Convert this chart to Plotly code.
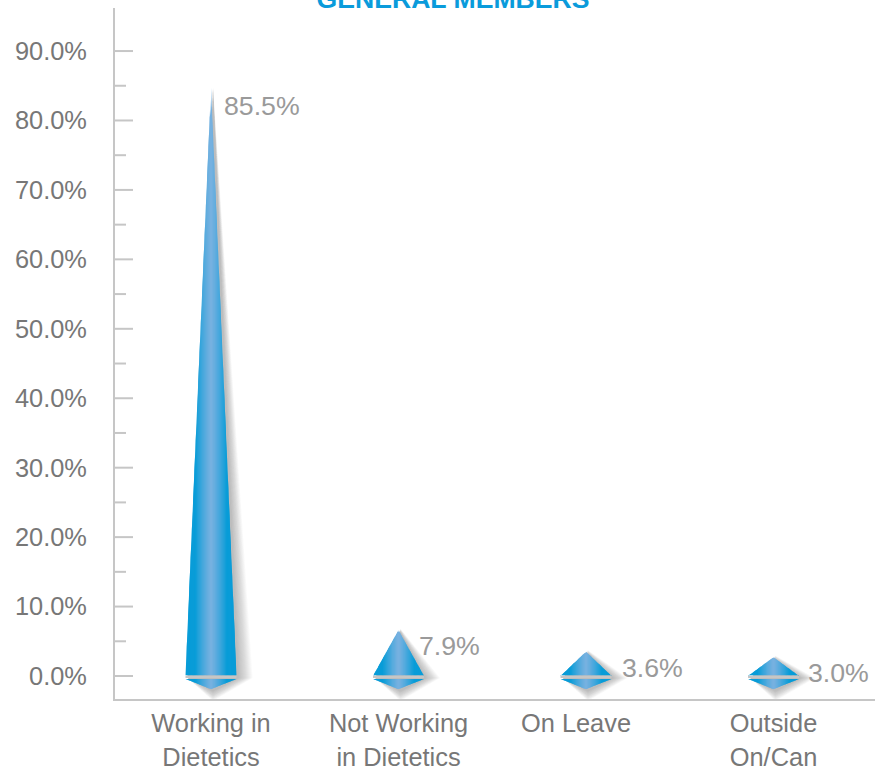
import numpy as np
import plotly.graph_objects as go

# ---- data ----
categories = ["Working in<br>Dietetics", "Not Working<br>in Dietetics", "On Leave", "Outside<br>On/Can"]
label_values = [85.5, 7.9, 3.6, 3.0]
drawn_heights = [84.7, 6.6, 3.5, 2.7]
major_ticks = [0, 10, 20, 30, 40, 50, 60, 70, 80, 90]
minor_ticks = [5, 15, 25, 35, 45, 55, 65, 75, 85]
title_text = "GENERAL MEMBERS"

# ---- styling ----
W, H = 875, 772
ML, MR, MT, MB = 115, 0, 8, 73
PX_X = 187.5               # pixels per category
PX_Y = 6.944               # pixels per y unit
X0, X1 = -(211 - ML) / PX_X, (W - 211) / PX_X
Y0, Y1 = -(H - MB - 676) / PX_Y, (676 - MT) / PX_Y
HALF = 25.5 / PX_X
TIP = -1.9
LOW_TOP = -0.42
GRAY = "#c6c6c6"
tick_positions = [0, 1, 2 - 10 / PX_X, 3]
label_dx = [11, 18.5, 34, 32.5]
label_dy = [-24, -25, -17, -18]

def grad(u):
    a = min(abs(u) / 0.62, 1.0) ** 1.2
    c0, c1 = (120, 177, 224), (8, 156, 216)
    return "rgb(%d,%d,%d)" % tuple(round(p + (q - p) * a) for p, q in zip(c0, c1))

fig = go.Figure()
skip = dict(mode="lines", line=dict(width=0), fill="toself", hoverinfo="skip", showlegend=False)

# soft shadows, offset to the lower right
for grow in range(14, -1, -1):
    xs, ys = [], []
    gx, gy = grow / PX_X, grow / PX_Y
    for i, h in enumerate(drawn_heights):
        cx = i + 2 / PX_X
        dy = -2 / PX_Y
        xs += [cx - HALF, cx, cx + HALF + gx, cx, cx - HALF, None]
        ys += [dy, dy + h + gy * 0.25, dy, dy + TIP - gy * 0.7, dy, None]
    fig.add_trace(go.Scatter(x=xs, y=ys, fillcolor="rgba(100,100,100,0.03)", **skip))

# blue pyramids built from thin vertical strips to carry the gradient
edges = np.linspace(-1, 1, 41)
for a, b in zip(edges[:-1], edges[1:]):
    mid = (a + b) / 2
    ov = min(b + 0.03, 1.0)
    xs, ys = [], []
    for i, h in enumerate(drawn_heights):
        top = lambda u: h * (1 - abs(u))
        low = lambda u: LOW_TOP + (TIP - LOW_TOP) * (1 - abs(u))
        xs += [i + a * HALF, i + a * HALF, i + ov * HALF, i + ov * HALF, None]
        ys += [0.1, top(a), top(ov), 0.1, None]
        xs += [i + a * HALF, i + a * HALF, i + ov * HALF, i + ov * HALF, None]
        ys += [LOW_TOP, low(a), low(ov), LOW_TOP, None]
    fig.add_trace(go.Scatter(x=xs, y=ys, fillcolor=grad(mid), **skip))

# gray seam at the zero line of each pyramid
for i in range(len(categories)):
    fig.add_trace(go.Scatter(x=[i - HALF, i + HALF], y=[-0.14, -0.14], mode="lines",
                             line=dict(color=GRAY, width=2.2), hoverinfo="skip", showlegend=False))

# cross ticks on the value axis
shapes = []
for vals, right in ((major_ticks, 18), (minor_ticks, 11)):
    for v in vals:
        shapes.append(dict(type="line", xref="x", yref="y", xsizemode="pixel", xanchor=X0,
                           x0=-10, x1=right, y0=v, y1=v, layer="below",
                           line=dict(color=GRAY, width=2)))

annotations = [
    dict(x=i, y=v, xref="x", yref="y", text=f"{v:.1f}%", showarrow=False, xanchor="left",
         yanchor="middle", xshift=dx, yshift=dy, font=dict(size=26.7, color="#9a9a9a"))
    for i, (v, dx, dy) in enumerate(zip(label_values, label_dx, label_dy))
]

font = "Liberation Sans, Arial, sans-serif"
fig.update_layout(
    width=W, height=H, margin=dict(l=ML, r=MR, t=MT, b=MB, pad=0, autoexpand=False),
    paper_bgcolor="white", plot_bgcolor="white", showlegend=False,
    font=dict(family=font, color="#777777"),
    title=dict(text=f"<b>{title_text}</b>", x=453 / W, xanchor="center", y=1 - 8 / H, yanchor="bottom",
               yref="container", font=dict(size=26.6, color="#0a9bdb", family=font)),
    xaxis=dict(range=[X0, X1], tickmode="array", tickvals=tick_positions, ticktext=categories,
               automargin=False,
               showgrid=False, zeroline=False, showline=True, linecolor=GRAY, linewidth=2,
               ticks="", tickfont=dict(size=25.4, color="#777777"), ticklabelstandoff=1, tickangle=0),
    yaxis=dict(range=[Y0, Y1], tickmode="array", tickvals=major_ticks,
               ticktext=[f"{v:.1f}%" for v in major_ticks], automargin=False,
               showgrid=False, zeroline=False, showline=True, linecolor=GRAY, linewidth=2,
               ticks="outside", ticklen=9, tickcolor="rgba(0,0,0,0)", ticklabelstandoff=12,
               tickfont=dict(size=25.4, color="#777777")),
    shapes=shapes, annotations=annotations,
)
fig.write_html("out.html", post_script="document.body.style.margin='0';document.body.style.overflow='hidden';",
               config={"displayModeBar": False})
